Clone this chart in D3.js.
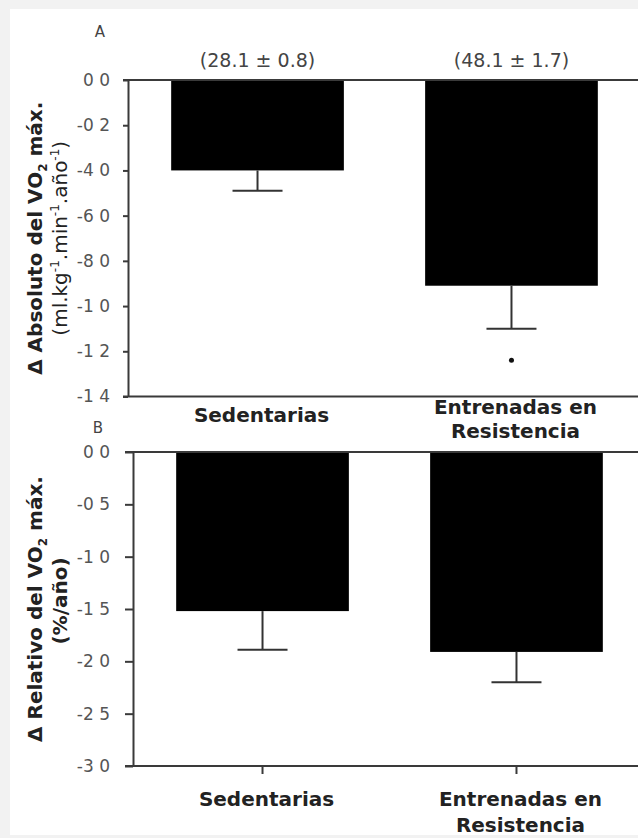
<!DOCTYPE html>
<html>
<head>
<meta charset="utf-8">
<script src="https://cdn.jsdelivr.net/npm/d3@7"></script>
<style>
  html, body { margin: 0; padding: 0; background: #f2f2f2; }
  svg { display: block; }
  text { font-family: "DejaVu Sans", Verdana, sans-serif; }
</style>
</head>
<body>
<svg id="chart" width="638" height="838"></svg>
<script>
// ---------------- data ----------------
const categories = ["Sedentarias", "Entrenadas en Resistencia"];
const categoryLines = [["Sedentarias"], ["Entrenadas en", "Resistencia"]];

// Panel A: absolute change in VO2 max (ml.kg-1.min-1.año-1)
const absMean = [-0.40, -0.91];
const absErr = [0.09, 0.19];
const absTicks = [0, -0.2, -0.4, -0.6, -0.8, -1.0, -1.2, -1.4];
const absTickLabels = ["0 0", "-0 2", "-4 0", "-6 0", "-8 0", "-1 0", "-1 2", "-1 4"];
const absBaseline = ["(28.1 ± 0.8)", "(48.1 ± 1.7)"];
const absSignif = [null, -1.24];

// Panel B: relative change in VO2 max (%/año)
const relMean = [-1.52, -1.91];
const relErr = [0.37, 0.29];
const relTicks = [0, -0.5, -1.0, -1.5, -2.0, -2.5, -3.0];
const relTickLabels = ["0 0", "-0 5", "-1 0", "-1 5", "-2 0", "-2 5", "-3 0"];

// ---------------- drawing ----------------
const svg = d3.select("#chart");
svg.append("rect").attr("x", 0).attr("y", 0).attr("width", 638).attr("height", 838).attr("fill", "#f2f2f2");
svg.append("rect").attr("x", 10).attr("y", 9).attr("width", 628).attr("height", 826).attr("fill", "#ffffff");

const axisColor = "#3a3a3a";
const tickTextColor = "#555";

function panel(cfg) {
  const g = svg.append("g");
  const y = d3.scaleLinear().domain(cfg.yDomain).range([cfg.top, cfg.bottom]);
  const x = d3.scaleBand().domain(categories).range([cfg.axisX, cfg.axisX + 513])
    .paddingInner(0.32).paddingOuter(0.17);

  // panel letter
  g.append("text").attr("x", cfg.letterX).attr("y", cfg.letterY)
    .attr("font-size", 15).attr("fill", "#444").attr("text-anchor", "middle")
    .text(cfg.letter);

  // bars
  g.selectAll("rect.bar").data(cfg.mean).join("rect").attr("class", "bar")
    .attr("x", (d, i) => x(categories[i]))
    .attr("width", x.bandwidth())
    .attr("y", y(0))
    .attr("height", d => y(d) - y(0))
    .attr("fill", "#000");

  // error bars
  const capHalf = 25;
  cfg.mean.forEach((m, i) => {
    const cx = x(categories[i]) + x.bandwidth() / 2;
    g.append("line").attr("x1", cx).attr("x2", cx)
      .attr("y1", y(m)).attr("y2", y(m - cfg.err[i]))
      .attr("stroke", "#333").attr("stroke-width", 2);
    g.append("line").attr("x1", cx - capHalf).attr("x2", cx + capHalf)
      .attr("y1", y(m - cfg.err[i])).attr("y2", y(m - cfg.err[i]))
      .attr("stroke", "#333").attr("stroke-width", 2);
  });

  // y axis
  const yAxis = d3.axisLeft(y).tickValues(cfg.ticks)
    .tickFormat((d, i) => cfg.tickLabels[i])
    .tickSize(cfg.tickSize).tickSizeOuter(0).tickPadding(cfg.tickPad);
  const ya = g.append("g").attr("transform", `translate(${cfg.axisX},0)`).call(yAxis);
  ya.select(".domain").attr("stroke", axisColor).attr("stroke-width", 2);
  ya.selectAll(".tick line").attr("stroke", axisColor).attr("stroke-width", 2);
  ya.selectAll(".tick text").attr("font-size", 17).attr("fill", tickTextColor)
    .attr("font-family", "DejaVu Sans, sans-serif");

  // top (zero) line and bottom line
  [y(cfg.yDomain[0]), y(cfg.yDomain[1])].forEach(yy => {
    g.append("line").attr("x1", cfg.axisX - cfg.tickSize).attr("x2", 638)
      .attr("y1", yy).attr("y2", yy)
      .attr("stroke", axisColor).attr("stroke-width", 2);
  });

  // bottom x ticks
  if (cfg.xTicks) {
    const xAxis = d3.axisBottom(x).tickFormat("").tickSize(8).tickSizeOuter(0);
    const xa = g.append("g").attr("transform", `translate(0,${cfg.bottom})`).call(xAxis);
    xa.select(".domain").remove();
    xa.selectAll(".tick line").attr("stroke", axisColor).attr("stroke-width", 2);
  }

  // category labels
  categoryLines.forEach((lines, i) => {
    const cx = x(categories[i]) + x.bandwidth() / 2 + 4;
    const offs = lines.length === 1 ? cfg.singleOff : cfg.multiOff;
    lines.forEach((ln, j) => {
      g.append("text").attr("x", cx).attr("y", cfg.bottom + offs[j])
        .attr("text-anchor", "middle").attr("font-size", 20).attr("font-weight", "bold")
        .attr("fill", "#222").text(ln);
    });
  });

  // annotations above bars
  if (cfg.above) {
    cfg.above.forEach((t, i) => {
      const cx = x(categories[i]) + x.bandwidth() / 2;
      g.append("text").attr("x", cx).attr("y", cfg.top - 13)
        .attr("text-anchor", "middle").attr("font-size", 19).attr("fill", "#444").text(t);
    });
  }

  // significance marker
  if (cfg.signif) {
    cfg.signif.forEach((s, i) => {
      if (s === null) return;
      const cx = x(categories[i]) + x.bandwidth() / 2;
      g.append("circle").attr("cx", cx).attr("cy", y(s)).attr("r", 2.5).attr("fill", "#111");
    });
  }

  // y label
  const midY = (cfg.top + cfg.bottom) / 2;
  const t1 = g.append("text").attr("transform", `translate(42,${midY}) rotate(-90)`)
    .attr("text-anchor", "middle").attr("font-size", 20).attr("font-weight", "bold").attr("fill", "#222");
  t1.append("tspan").text(cfg.label1a);
  t1.append("tspan").attr("font-size", 12).attr("dy", 5).text("2");
  t1.append("tspan").attr("dy", -5).text(" máx.");
  const t2 = g.append("text").attr("transform", `translate(${cfg.label2X},${midY + cfg.label2Shift}) rotate(-90)`)
    .attr("text-anchor", "middle").attr("font-size", 20).attr("font-weight", cfg.label2Bold ? "bold" : "normal")
    .attr("fill", "#222");
  let pendingDy = 0;
  cfg.label2.forEach(p => {
    if (p.sup) {
      t2.append("tspan").attr("font-size", 12).attr("dy", -8).text(p.sup);
      pendingDy = 8;
    } else {
      t2.append("tspan").attr("dy", pendingDy).text(p.t);
      pendingDy = 0;
    }
  });
}

panel({
  letter: "A", letterX: 100, letterY: 37,
  yDomain: [0, -1.4], top: 80, bottom: 396.5, axisX: 128,
  tickSize: 5, tickPad: 13,
  mean: absMean, err: absErr, ticks: absTicks, tickLabels: absTickLabels,
  above: absBaseline, signif: absSignif, xTicks: false,
  singleOff: [25], multiOff: [17, 41],
  label1a: "Δ Absoluto del VO",
  label2: [{t: "(ml.kg"}, {sup: "-1"}, {t: ".min"}, {sup: "-1"}, {t: ".año"}, {sup: "-1"}, {t: ")"}],
  label2Bold: false, label2X: 67, label2Shift: 0
});

panel({
  letter: "B", letterX: 98, letterY: 433,
  yDomain: [0, -3.0], top: 452, bottom: 766, axisX: 133,
  tickSize: 8, tickPad: 15,
  mean: relMean, err: relErr, ticks: relTicks, tickLabels: relTickLabels,
  above: null, signif: null, xTicks: true,
  singleOff: [40], multiOff: [40, 66],
  label1a: "Δ Relativo del VO",
  label2: [{t: "(%/año)"}],
  label2Bold: true, label2X: 67, label2Shift: -8
});
</script>
</body>
</html>
